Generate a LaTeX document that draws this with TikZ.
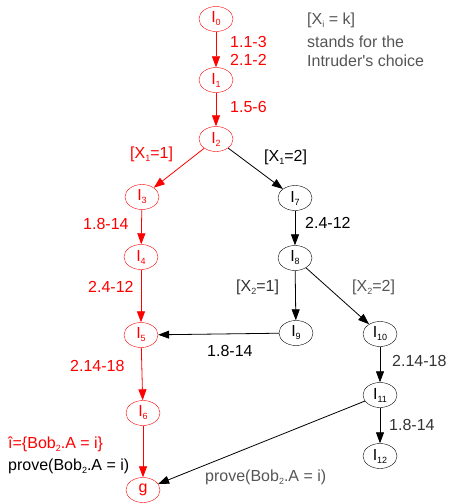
\documentclass[tikz,border=0pt]{standalone}
\usepackage{fontspec}
\setmainfont{Liberation Sans}
\usetikzlibrary{shapes.geometric,arrows.meta}
\newcommand\sbx[1]{\raisebox{-3pt}{\fontsize{9}{9}\selectfont #1}}
\definecolor{dgray}{HTML}{333333}
\definecolor{mgray}{HTML}{555555}
\begin{document}
\begin{tikzpicture}[x=1pt,y=-1pt,
  st/.style={ellipse,draw,minimum width=34pt,minimum height=25pt,inner sep=0pt,font=\fontsize{16}{16}\selectfont},
  rd/.style={red,draw=red},
  ar/.style={-{Triangle[length=11pt,width=8pt]},line width=0.8pt},
  lb/.style={anchor=west,inner sep=0pt,font=\fontsize{16}{19}\selectfont}]
\useasboundingbox (0,0) rectangle (450,503);
% states
\node[st,rd] (i0) at (216,19) {I\sbx{0}};
\node[st,rd] (i1) at (216,80) {I\sbx{1}};
\node[st,rd] (i2) at (216,139) {I\sbx{2}};
\node[st,rd] (i3) at (142,197) {I\sbx{3}};
\node[st,rd] (i4) at (141,257) {I\sbx{4}};
\node[st,rd] (i5) at (141,335) {I\sbx{5}};
\node[st,rd] (i6) at (143,413) {I\sbx{6}};
\node[st,rd] (g) at (143,490) {g};
\node[st] (i7) at (295,198) {I\sbx{7}};
\node[st] (i8) at (295,258) {I\sbx{8}};
\node[st] (i9) at (296,333) {I\sbx{9}};
\node[st] (i10) at (380,334) {I\sbx{10}};
\node[st] (i11) at (380,395) {I\sbx{11}};
\node[st] (i12) at (380,456) {I\sbx{12}};
% edges
\draw[ar,red] (i0) -- (i1);
\draw[ar,red] (i1) -- (i2);
\draw[ar,red] (i2) -- (i3);
\draw[ar,red] (i3) -- (i4);
\draw[ar,red] (i4) -- (i5);
\draw[ar,red] (i5) -- (i6);
\draw[ar,red] (i6) -- (g);
\draw[ar] (i2) -- (i7);
\draw[ar] (i7) -- (i8);
\draw[ar] (i8) -- (i9);
\draw[ar] (i8) -- (i10);
\draw[ar] (i9) -- (i5);
\draw[ar] (i10) -- (i11);
\draw[ar] (i11) -- (i12);
\draw[ar] (i11) -- (g);
% labels
\node[lb,red] (l1) at (230,42) {1.1-3};
\node[lb,red] (l2) at (230,60) {2.1-2};
\node[lb,red] (l3) at (230,107) {1.5-6};
\node[lb,mgray] (k1) at (307,20) {[X\sbx{i} = k]};
\node[lb,mgray] (k2) at (307,42) {stands for the};
\node[lb,mgray] (k3) at (307,61) {Intruder\textquotesingle s choice};
\node[lb,red] (l4) at (130,154) {[X\sbx{1}=1]};
\node[lb] (l5) at (264,157) {[X\sbx{1}=2]};
\node[lb,red] (l6) at (83,224) {1.8-14};
\node[lb,red] (l7) at (88,287) {2.4-12};
\node[lb] (l8) at (305,223) {2.4-12};
\node[lb,dgray] (l9) at (236,287) {[X\sbx{2}=1]};
\node[lb,mgray] (l10) at (352,287) {[X\sbx{2}=2]};
\node[lb] (l11) at (207,351) {1.8-14};
\node[lb,red] (l12) at (70,366) {2.14-18};
\node[lb,dgray] (l13) at (392,361) {2.14-18};
\node[lb,dgray] (l14) at (389,425) {1.8-14};
\node[lb,red] (l15) at (8,444) {î=\{Bob\sbx{2}.A = i\}};
\node[lb] (l16) at (8,466) {prove(Bob\sbx{2}.A = i)};
\node[lb,mgray] (l17) at (205,477) {prove(Bob\sbx{2}.A = i)};
\end{tikzpicture}
\end{document}
